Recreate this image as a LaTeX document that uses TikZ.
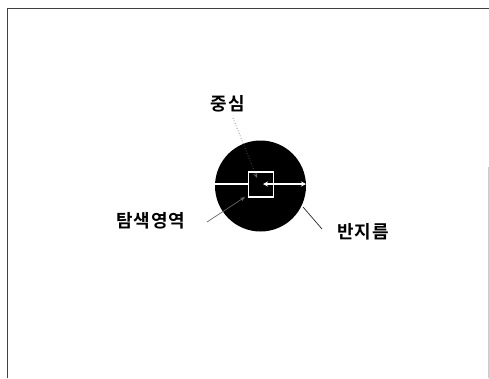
\documentclass[tikz,border=0pt]{standalone}
\usepackage{fontspec}
\newfontfamily\kr[LetterSpace=5]{Noto Sans CJK KR Bold}
\usetikzlibrary{arrows.meta}
\begin{document}
\begin{tikzpicture}[x=1pt,y=-1pt,
  lbl/.style={font=\kr\fontsize{18}{18}\selectfont, inner sep=0pt, text=black},
  leader/.style={line width=0.7pt},
  whiteln/.style={draw=white, line width=1.4pt}]
\useasboundingbox (0,0) rectangle (489,378);
% frame
\draw[line width=1pt, draw=black!75] (7,378) -- (7,8) -- (489,8);
\draw[line width=0.6pt, draw=black!20] (488,167) -- (488,378);
% disc
\node[circle, fill=black, minimum size=91pt, inner sep=0pt] (disc) at (260.5,186) {};
% square
\node[draw=white, line width=1.4pt, minimum size=25pt, inner sep=0pt] (sq) at (261,184.5) {};
% white lines
\coordinate (cl) at (215,184);
\coordinate (c) at (263,184);
\coordinate (cr) at (306,184);
\draw[whiteln] (cl) -- (sq.west |- cl);
\draw[whiteln, {Stealth[length=5pt,width=5pt]}-{Stealth[length=5pt,width=5pt]}] (c) -- (cr);
% labels
\node[lbl] (center) at (228,104) {중심};
\node[lbl] (area) at (151,221) {탐색영역};
\node[lbl] (radius) at (363,232) {반지름};
% leaders
\coordinate (ct) at (233,118);
\coordinate (ch) at (257,178);
\draw[leader, draw=black!60, dotted, -{Stealth[length=5pt,width=4pt,open]}] (ct) -- (ch);
\coordinate (at) at (207,222);
\coordinate (ah) at (245,197);
\draw[leader, draw=black!60, -{Stealth[length=5pt,width=4pt,open]}] (at) -- (ah);
\coordinate (rt) at (322,229);
\coordinate (rh) at (303,207);
\draw[leader, draw=black!85] (rt) -- (rh);
\end{tikzpicture}
\end{document}
